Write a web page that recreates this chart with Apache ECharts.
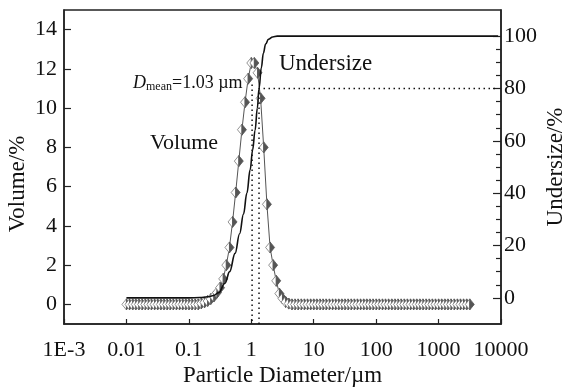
<!DOCTYPE html>
<html>
<head>
<meta charset="utf-8">
<script src="https://cdn.jsdelivr.net/npm/echarts@6/dist/echarts.min.js"></script>
<style>
  html, body { margin: 0; padding: 0; background: #fff; }
  #chart { width: 568px; height: 390px; }
</style>
</head>
<body>
<div id="chart"></div>
<script>
// Size classes (µm), 20 channels per decade from 0.01 to 3160
const sizes = [
  0.01, 0.0112, 0.0126, 0.0141, 0.0158, 0.0178, 0.02, 0.0224, 0.0251, 0.0282,
  0.0316, 0.0355, 0.0398, 0.0447, 0.0501, 0.0562, 0.0631, 0.0708, 0.0794, 0.0891,
  0.1, 0.112, 0.126, 0.141, 0.158, 0.178, 0.2, 0.224, 0.251, 0.282,
  0.316, 0.355, 0.398, 0.447, 0.501, 0.562, 0.631, 0.708, 0.794, 0.891,
  1.0, 1.12, 1.26, 1.41, 1.58, 1.78, 2.0, 2.24, 2.51, 2.82,
  3.16, 3.55, 3.98, 4.47, 5.01, 5.62, 6.31, 7.08, 7.94, 8.91,
  10, 11.2, 12.6, 14.1, 15.8, 17.8, 20, 22.4, 25.1, 28.2,
  31.6, 35.5, 39.8, 44.7, 50.1, 56.2, 63.1, 70.8, 79.4, 89.1,
  100, 112, 126, 141, 158, 178, 200, 224, 251, 282,
  316, 355, 398, 447, 501, 562, 631, 708, 794, 891,
  1000, 1120, 1260, 1410, 1580, 1780, 2000, 2240, 2510, 2820,
  3160
];

// Volume fraction per size class (%)
const volume = [
  0, 0, 0, 0, 0, 0, 0, 0, 0, 0,
  0, 0, 0, 0, 0, 0, 0, 0, 0, 0,
  0, 0, 0, 0, 0.05, 0.1, 0.17, 0.27, 0.4, 0.6,
  0.85, 1.3, 2.0, 2.9, 4.2, 5.7, 7.3, 8.9, 10.3, 11.5,
  12.3, 12.3, 11.8, 10.5, 8.0, 5.1, 2.9, 2.0, 1.2, 0.55,
  0.3, 0.12, 0.04, 0, 0, 0, 0, 0, 0, 0,
  0, 0, 0, 0, 0, 0, 0, 0, 0, 0,
  0, 0, 0, 0, 0, 0, 0, 0, 0, 0,
  0, 0, 0, 0, 0, 0, 0, 0, 0, 0,
  0, 0, 0, 0, 0, 0, 0, 0, 0, 0,
  0, 0, 0, 0, 0, 0, 0, 0, 0, 0,
  0
];

// Cumulative undersize curve (µm, %)
const undersizeX = [0.01, 0.1, 0.15, 0.2, 0.25, 0.3, 0.38, 0.45, 0.55, 0.65, 0.75, 0.85,
  0.96, 1.05, 1.15, 1.25, 1.33, 1.45, 1.56, 1.7, 1.88, 2.2, 2.6, 9000];
const undersizeY = [0, 0, 0.1, 0.4, 0.9, 2.0, 5.6, 10, 17, 24.5, 32, 40,
  49, 56.5, 64, 72.5, 80, 88, 93.5, 97, 98.8, 99.7, 100, 100];

// Mean diameter and the 80 % undersize point
const dMean = 1.03;
const d80 = 1.33;
const level80 = 80;

// Axis tick labels
const xTickLabels = ['1E-3', '0.01', '0.1', '1', '10', '100', '1000', '10000'];
const leftTicks = [0, 2, 4, 6, 8, 10, 12, 14];
const rightTicks = [0, 20, 40, 60, 80, 100];
const rightMinorTicks = [5, 10, 15, 25, 30, 35, 45, 50, 55, 65, 70, 75, 85, 90, 95];

const FONT = "'Liberation Serif', 'Times New Roman', serif";
const INK = '#111';

const volumeData = sizes.map((s, i) => [s, volume[i]]);
const undersizeData = undersizeX.map((s, i) => [s, undersizeY[i]]);

const chart = echarts.init(document.getElementById('chart'), null, { renderer: 'canvas' });

const axisLine = { show: true, onZero: false, lineStyle: { color: '#222', width: 1.5 } };

chart.setOption({
  animation: false,
  backgroundColor: '#fff',
  grid: {
    left: 64, right: 67, top: 10, bottom: 66,
    outerBoundsMode: 'none', containLabel: false,
    show: true, borderColor: '#222', borderWidth: 1.5
  },
  xAxis: {
    type: 'log', logBase: 10, min: 0.001, max: 10000,
    axisLine: axisLine,
    axisTick: { inside: true, length: 5, lineStyle: { color: '#222', width: 1.2 } },
    splitLine: { show: false },
    minorTick: { show: false },
    axisLabel: {
      color: INK, fontFamily: FONT, fontSize: 22, margin: 15,
      formatter: v => xTickLabels[Math.round(Math.log10(v)) + 3]
    },
    name: 'Particle Diameter/µm', nameLocation: 'middle', nameGap: 40, nameMoveOverlap: false,
    nameTextStyle: { color: INK, fontFamily: FONT, fontSize: 23 }
  },
  yAxis: [
    {
      type: 'value', min: -1, max: 15, position: 'left',
      axisLine: axisLine,
      axisTick: { show: true, inside: true, length: 7, customValues: leftTicks, lineStyle: { color: '#222', width: 1.2 } },
      axisLabel: { color: INK, fontFamily: FONT, fontSize: 22, margin: 7, customValues: leftTicks },
      splitLine: { show: false },
      name: 'Volume/%', nameLocation: 'middle', nameGap: 35, nameRotate: 90, nameMoveOverlap: false,
      nameTextStyle: { color: INK, fontFamily: FONT, fontSize: 23, padding: [0, 34, 0, 0] }
    },
    {
      type: 'value', min: -10, max: 110, position: 'right',
      axisLine: axisLine,
      axisTick: { show: true, inside: true, length: 8, customValues: rightTicks, lineStyle: { color: '#222', width: 1.2 } },
      axisLabel: { color: INK, fontFamily: FONT, fontSize: 22, margin: 3, customValues: rightTicks },
      splitLine: { show: false },
      name: 'Undersize/%', nameLocation: 'middle', nameGap: 43, nameRotate: 90, nameMoveOverlap: false,
      nameTextStyle: { color: INK, fontFamily: FONT, fontSize: 23 }
    },
    {
      // minor ticks on the undersize axis
      type: 'value', min: -10, max: 110, position: 'right',
      axisLine: { show: false },
      axisTick: { show: true, inside: true, length: 5, customValues: rightMinorTicks, lineStyle: { color: '#222', width: 1.2 } },
      axisLabel: { show: false },
      splitLine: { show: false }
    }
  ],
  series: [
    {
      name: 'Volume line', type: 'line', yAxisIndex: 0, data: volumeData,
      showSymbol: false, symbol: 'none',
      lineStyle: { color: '#555', width: 1 }, z: 2
    },
    {
      // half-filled diamond markers
      name: 'Volume', type: 'custom', yAxisIndex: 0, data: volumeData,
      encode: { x: 0, y: 1 }, z: 3,
      renderItem: function (params, api) {
        const p = api.coord([api.value(0), api.value(1)]);
        const w = 4.5, h = 5.5;
        return {
          type: 'group',
          children: [
            {
              type: 'polygon',
              shape: { points: [[p[0] - w, p[1]], [p[0], p[1] - h], [p[0], p[1] + h]] },
              style: { fill: '#fff', stroke: '#777', lineWidth: 0.8 }
            },
            {
              type: 'polygon',
              shape: { points: [[p[0], p[1] - h], [p[0] + w, p[1]], [p[0], p[1] + h]] },
              style: { fill: '#555', stroke: '#555', lineWidth: 0.8 }
            }
          ]
        };
      }
    },
    {
      name: 'Undersize', type: 'line', yAxisIndex: 1, data: undersizeData,
      smooth: 0.4, smoothMonotone: 'x', showSymbol: false, symbol: 'none',
      lineStyle: { color: '#111', width: 1.6 }, z: 4
    },
    {
      name: 'Mean marker', type: 'line', yAxisIndex: 0,
      data: [[dMean, 11.2], [dMean, -1]],
      showSymbol: false, symbol: 'none',
      lineStyle: { color: '#111', width: 1.5, type: [1.5, 3.5] }, z: 5
    },
    {
      name: 'D80 marker', type: 'line', yAxisIndex: 1,
      data: [[d80, -10], [d80, level80], [9000, level80]],
      showSymbol: false, symbol: 'none',
      lineStyle: { color: '#111', width: 1.5, type: [1.5, 3.5] }, z: 5
    }
  ],
  graphic: [
    {
      type: 'text', left: 150, top: 132,
      style: { text: 'Volume', fill: INK, font: '22px ' + FONT }
    },
    {
      type: 'text', left: 279, top: 52,
      style: { text: 'Undersize', fill: INK, font: '23px ' + FONT }
    },
    {
      type: 'text', left: 133, top: 74,
      style: {
        text: '{d|D}{s|mean}{n|=1.03 µm}',
        rich: {
          d: { fill: INK, fontFamily: FONT, fontSize: 18, fontStyle: 'italic' },
          s: { fill: INK, fontFamily: FONT, fontSize: 12, padding: [8, 0, 0, 0] },
          n: { fill: INK, fontFamily: FONT, fontSize: 18 }
        }
      }
    }
  ]
});
</script>
</body>
</html>
